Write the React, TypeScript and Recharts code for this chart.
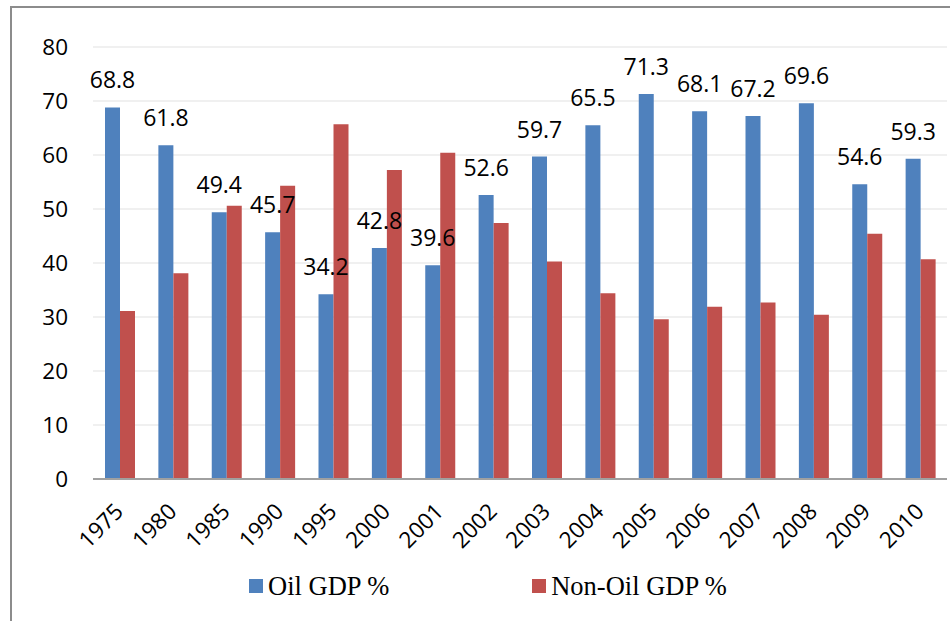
import React from "react";
import { Bar, BarChart, CartesianGrid, LabelList, Legend, XAxis, YAxis } from "recharts";

const YEARS = ["1975", "1980", "1985", "1990", "1995", "2000", "2001", "2002", "2003", "2004", "2005", "2006", "2007", "2008", "2009", "2010"];
const OIL = [68.8, 61.8, 49.4, 45.7, 34.2, 42.8, 39.6, 52.6, 59.7, 65.5, 71.3, 68.1, 67.2, 69.6, 54.6, 59.3];
const NON_OIL = [31.1, 38.1, 50.6, 54.3, 65.7, 57.2, 60.4, 47.4, 40.3, 34.4, 29.6, 31.9, 32.7, 30.4, 45.4, 40.7];
const Y_TICKS = [0, 10, 20, 30, 40, 50, 60, 70, 80];
const SERIES_ORDER = ["oil", "nonOil"];

const BLUE = "#4f81bd";
const RED = "#c0504d";
const SANS = "'Open Sans', 'Noto Sans', sans-serif";

const data = YEARS.map((year, i) => ({ year, oil: OIL[i], nonOil: NON_OIL[i] }));

function YearTick({ x, y, payload }: any) {
  return (
    <g transform={`translate(${x + 5},${y + 26})`}>
      <text transform="rotate(-45)" textAnchor="end" fontSize={22.5} fontFamily={SANS} fill="#000">
        {payload.value}
      </text>
    </g>
  );
}

function LegendBox({ payload }: any) {
  const items = [...(payload || [])].sort((a: any, b: any) => SERIES_ORDER.indexOf(a.dataKey) - SERIES_ORDER.indexOf(b.dataKey));
  return (
    <div style={{ display: "flex", paddingLeft: 249, gap: 143, alignItems: "center" }}>
      {items.map((p: any) => (
        <div key={p.value} style={{ display: "flex", alignItems: "center", gap: 5 }}>
          <span style={{ width: 14, height: 14, background: p.color, display: "inline-block" }} />
          <span style={{ fontFamily: "'Liberation Serif', 'Times New Roman', serif", fontSize: 26.5, color: "#000", lineHeight: "30px" }}>{p.value}</span>
        </div>
      ))}
    </div>
  );
}

export default function App() {
  return (
    <div style={{ position: "fixed", left: 0, top: 0, width: 950, height: 621, background: "#fff", overflow: "hidden" }}>
      <div style={{ position: "absolute", left: 10, top: 6, width: 960, height: 640, borderLeft: "2px solid #8c8c8c", borderTop: "2px solid #8c8c8c" }} />
      <div style={{ position: "absolute", left: 0, top: 0 }}>
        <BarChart width={950} height={621} data={data} margin={{ top: 47, right: 3, bottom: 0, left: 0 }} barGap={0} barSize={15}>
          <CartesianGrid vertical={false} stroke="#ebebeb" strokeWidth={1.5} />
          <XAxis dataKey="year" height={142} tick={<YearTick />} tickLine={false} axisLine={{ stroke: "#a0a0a0", strokeWidth: 2 }} interval={0} />
          <YAxis domain={[0, 80]} ticks={Y_TICKS} width={93} tickLine={false} axisLine={false} tickMargin={19} tick={{ fontSize: 22.5, fill: "#000", fontFamily: SANS }} />
          <Legend layout="horizontal" verticalAlign="middle" align="center" content={<LegendBox />} wrapperStyle={{ left: 0, top: 571, width: 950 }} />
          <Bar dataKey="oil" name="Oil GDP %" fill={BLUE} isAnimationActive={false}>
            <LabelList dataKey="oil" position="top" offset={19} fontSize={23} fontFamily={SANS} fill="#000" />
          </Bar>
          <Bar dataKey="nonOil" name="Non-Oil GDP %" fill={RED} isAnimationActive={false} />
        </BarChart>
      </div>
    </div>
  );
}
